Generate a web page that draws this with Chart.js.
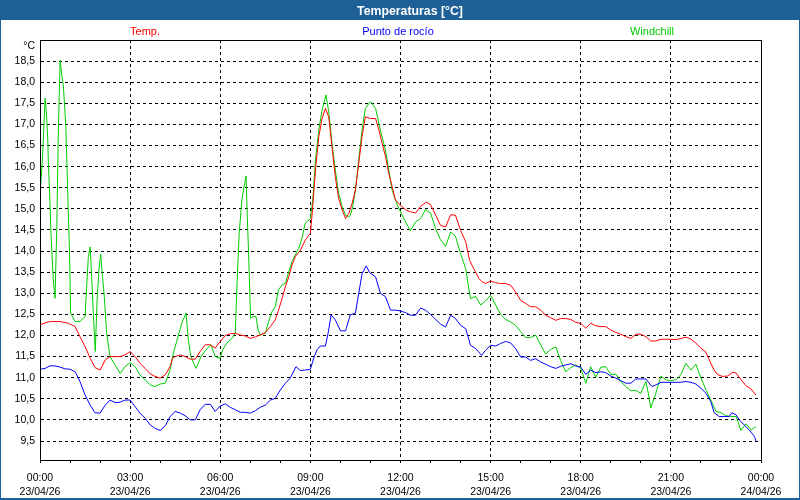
<!DOCTYPE html>
<html><head><meta charset="utf-8">
<script src="https://cdn.jsdelivr.net/npm/chart.js@4.4.1/dist/chart.umd.min.js"></script>
<style>
html,body{margin:0;padding:0;background:#fff;}
#wrap{position:relative;width:800px;height:500px;overflow:hidden;background:#fff;}
#c{position:absolute;left:0;top:0;}
#titlebar{position:absolute;left:0;top:0;width:800px;height:20px;background:#1e5f97;}
#title{position:absolute;left:410px;top:0;transform:translateX(-50%);color:#fff;font:bold 12.3px "Liberation Sans",Arial,sans-serif;line-height:22px;white-space:nowrap;}
#frame{position:absolute;left:0;top:0;width:800px;height:500px;box-sizing:border-box;border:1px solid #1e5f97;border-bottom-width:2px;pointer-events:none;}
.leg{position:absolute;top:25px;font:11px "Liberation Sans",Arial,sans-serif;line-height:13px;transform:translateX(-50%);white-space:nowrap;}
#unit{position:absolute;right:765px;top:39px;font:10.5px "Liberation Sans",Arial,sans-serif;line-height:13px;color:#000;}
</style></head>
<body><div id="wrap">
<canvas id="c" width="800" height="500"></canvas>
<div id="titlebar"></div><div id="title">Temperaturas [°C]</div>
<div class="leg" style="left:145px;color:#ff0000">Temp.</div>
<div class="leg" style="left:398px;color:#0000ff">Punto de rocío</div>
<div class="leg" style="left:652px;color:#00cc00">Windchill</div>
<div id="unit">°C</div>
<div id="frame"></div>
</div>
<script>
const seriesNames = ['Temp.', 'Punto de rocío', 'Windchill'];
const timeLabels = ['00:00','03:00','06:00','09:00','12:00','15:00','18:00','21:00','00:00'];
const dateLabels = ['23/04/26','23/04/26','23/04/26','23/04/26','23/04/26','23/04/26','23/04/26','23/04/26','24/04/26'];
const xTickHours = [0,1,2,3,4,5,6,7,8,9,10,11,12,13,14,15,16,17,18,19,20,21,22,23,24];
const yTicks = [9.5,10,10.5,11,11.5,12,12.5,13,13.5,14,14.5,15,15.5,16,16.5,17,17.5,18,18.5];

const tempT = [0,0.17,0.33,0.67,0.94,1.17,1.33,1.5,1.67,1.83,2,2.17,2.33,2.5,2.67,2.83,3,3.17,3.33,3.5,3.67,3.83,4,4.17,4.33,4.41,4.5,4.67,4.83,5,5.17,5.33,5.5,5.67,5.83,
6,6.17,6.33,6.5,6.67,6.83,7,7.17,7.33,7.5,7.67,7.83,7.94,8.06,8.17,8.28,8.39,8.5,8.67,8.83,9,9.06,9.17,9.28,9.39,9.5,9.61,9.72,9.83,9.94,10.06,10.17,10.28,10.39,10.5,10.61,10.72,10.83,11,11.17,11.28,11.39,11.5,11.61,11.72,11.83,
12,12.17,12.33,12.5,12.67,12.86,13,13.17,13.33,13.5,13.67,13.83,14,14.17,14.3,14.44,14.61,14.72,14.83,15,15.17,15.33,15.5,15.67,15.83,16,16.17,16.33,16.5,16.67,16.83,17,17.17,17.33,17.5,17.67,17.83,
18,18.17,18.33,18.5,18.67,18.83,19,19.17,19.33,19.5,19.67,19.83,20,20.17,20.33,20.5,20.67,20.83,21,21.17,21.33,21.5,21.67,21.83,22,22.17,22.33,22.44,22.56,22.72,22.89,23.06,23.17,23.33,23.5,23.67,23.83];
const tempV = [12.25,12.3,12.33,12.33,12.29,12.21,11.97,11.74,11.46,11.24,11.18,11.42,11.5,11.5,11.5,11.54,11.62,11.5,11.34,11.22,11.09,11.03,10.99,11.07,11.26,11.46,11.5,11.54,11.5,11.44,11.44,11.62,11.78,11.78,11.7,
11.86,12,12.04,12.05,12.01,11.99,11.93,11.97,12.01,12.07,12.21,12.37,12.6,12.88,13.16,13.39,13.67,13.87,14.02,14.26,14.42,14.89,15.92,16.71,17.14,17.38,17.18,16.47,15.76,15.25,14.97,14.77,14.89,15.13,15.45,16.08,16.71,17.18,17.14,17.14,16.87,16.55,16.24,15.84,15.53,15.21,
15.08,14.98,14.93,14.9,15.06,15.16,15.1,14.85,14.61,14.57,14.86,14.85,14.49,14.22,13.78,13.58,13.35,13.27,13.23,13.29,13.25,13.23,13.23,13.19,13.03,12.83,12.76,12.68,12.68,12.6,12.48,12.42,12.36,12.4,12.4,12.38,12.31,
12.29,12.17,12.29,12.23,12.21,12.21,12.13,12.07,12.03,11.97,11.93,12.03,12.03,11.97,11.87,11.87,11.91,11.91,11.91,11.9,11.93,11.96,11.91,11.82,11.7,11.6,11.34,11.18,11.07,11.03,11.04,11.13,11.11,10.96,10.81,10.73,10.59];

const dewT = [0,0.17,0.33,0.5,0.67,0.83,1,1.17,1.33,1.5,1.67,1.83,2,2.17,2.33,2.5,2.67,2.83,3,3.17,3.33,3.5,3.67,3.83,4,4.17,4.33,4.5,4.67,4.83,5,5.17,5.33,5.5,5.67,5.83,
6,6.17,6.33,6.5,6.67,6.83,7,7.17,7.33,7.5,7.67,7.83,8,8.17,8.33,8.52,8.67,8.83,9,9.11,9.22,9.33,9.5,9.59,9.69,9.83,10,10.17,10.33,10.5,10.61,10.72,10.86,10.97,11.17,11.33,11.5,11.67,11.83,
12,12.17,12.33,12.5,12.67,12.83,13,13.17,13.33,13.5,13.67,13.83,14,14.17,14.33,14.5,14.7,14.83,15,15.17,15.33,15.5,15.67,15.83,16,16.17,16.33,16.5,16.67,16.83,17,17.17,17.33,17.5,17.67,17.83,
18,18.17,18.33,18.5,18.67,18.83,19,19.17,19.33,19.5,19.67,19.83,20,20.17,20.37,20.5,20.67,20.83,21,21.17,21.33,21.5,21.67,21.83,22,22.17,22.33,22.44,22.61,22.78,22.94,23.03,23.17,23.28,23.44,23.61,23.78,23.83];
const dewV = [11.2,11.22,11.28,11.28,11.25,11.21,11.2,11.14,10.91,10.59,10.35,10.17,10.16,10.35,10.47,10.41,10.42,10.47,10.47,10.31,10.16,10.04,9.88,9.8,9.75,9.86,10.08,10.2,10.16,10.1,10,10,10.24,10.37,10.37,10.2,
10.33,10.38,10.3,10.24,10.18,10.18,10.16,10.22,10.3,10.35,10.47,10.51,10.71,10.87,10.99,11.26,11.17,11.18,11.2,11.46,11.66,11.75,11.75,12.05,12.49,12.37,12.11,12.11,12.49,12.53,13,13.46,13.65,13.49,13.39,13,12.92,12.6,12.6,
12.58,12.54,12.48,12.48,12.65,12.6,12.5,12.38,12.27,12.2,12.48,12.4,12.24,12.16,11.77,11.69,11.53,11.65,11.77,11.75,11.81,11.86,11.82,11.69,11.49,11.49,11.41,11.45,11.37,11.32,11.26,11.22,11.27,11.3,11.33,11.28,
11.25,11.08,11.18,11.12,11.14,11.12,11.04,10.99,10.93,10.87,10.87,10.97,10.97,10.97,10.79,10.83,10.89,10.89,10.89,10.89,10.89,10.91,10.89,10.85,10.75,10.63,10.43,10.17,10.08,10.08,10.08,10.17,10.12,10,9.88,9.76,9.61,9.5];

const windT = [0,0.08,0.17,0.21,0.26,0.28,0.32,0.37,0.44,0.5,0.56,0.61,0.67,0.72,0.78,0.86,0.9,0.94,0.98,1.02,1.17,1.33,1.5,1.56,1.61,1.67,1.72,1.78,1.84,1.9,1.97,2.02,2.08,2.14,2.22,2.33,2.5,2.67,2.83,3,3.17,3.33,3.5,3.67,3.83,4,4.17,4.33,4.44,4.56,4.72,4.86,4.94,5.02,5.19,5.36,5.52,5.69,5.83,
6,6.08,6.22,6.39,6.5,6.56,6.63,6.72,6.81,6.86,6.9,6.94,7.01,7.11,7.19,7.26,7.33,7.5,7.61,7.72,7.83,7.94,8.06,8.17,8.28,8.39,8.5,8.61,8.72,8.83,9,9.08,9.17,9.28,9.39,9.52,9.61,9.72,9.83,9.94,10.06,10.17,10.28,10.33,10.41,10.5,10.61,10.72,10.83,11,11.17,11.33,11.5,11.61,11.72,11.89,
12,12.17,12.33,12.5,12.67,12.83,13,13.17,13.33,13.5,13.67,13.83,14,14.17,14.33,14.5,14.67,14.83,15,15.17,15.33,15.5,15.67,15.83,16,16.17,16.33,16.5,16.67,16.83,17,17.17,17.33,17.5,17.67,17.83,
18,18.17,18.33,18.5,18.67,18.83,19,19.17,19.33,19.5,19.67,19.83,20,20.17,20.26,20.33,20.5,20.67,20.83,21,21.17,21.33,21.5,21.67,21.83,22,22.17,22.33,22.5,22.67,22.83,23,23.17,23.33,23.5,23.67,23.83];
const windV = [15.3,16.15,17.62,17.3,16.63,16.04,15.37,14.34,13.35,12.88,14.58,16.83,18.52,18.2,17.9,16.95,15.96,14.97,14.02,12.53,12.33,12.33,12.45,13.24,13.87,14.1,13.4,12.45,11.62,12.84,13.63,13.93,13.4,12.92,12.05,11.5,11.3,11.1,11.26,11.36,11.26,11.06,10.95,10.83,10.79,10.85,10.87,11.18,11.58,11.89,12.29,12.53,11.89,11.5,11.22,11.5,11.66,11.78,11.5,
11.46,11.66,11.82,11.93,12.05,13.24,14.42,15.21,15.6,15.78,14.81,14.02,12.41,12.45,12.45,12.13,12.01,12.05,12.33,12.56,12.68,13.08,13.2,13.24,13.51,13.75,13.91,14.06,14.3,14.66,14.77,15.21,16.16,16.87,17.34,17.7,17.3,16.55,15.92,15.37,15.05,14.85,14.81,14.85,15.05,15.45,16.16,16.87,17.38,17.54,17.38,16.87,16.39,15.92,15.45,15.09,
14.93,14.69,14.48,14.69,14.77,14.98,14.9,14.53,14.27,14.11,14.45,14.35,13.94,13.58,12.87,12.93,12.72,12.82,12.95,12.72,12.5,12.38,12.32,12.24,12.09,11.95,11.95,12.01,11.77,11.56,11.67,11.73,11.41,11.14,11.24,11.3,
11.22,10.87,11.26,11.01,11.25,11.26,11.08,11.08,10.91,10.79,10.69,10.7,10.63,10.91,10.59,10.28,10.63,11.04,10.95,10.93,10.95,11.07,11.34,11.18,11.32,10.99,10.71,10.47,10.2,10.17,10.1,10.08,10.08,9.75,9.91,9.76,9.84];

const pts = (T, V) => T.map((t, i) => ({x: t, y: V[i]}));
const tickFont = {family: '"Liberation Sans", Arial, sans-serif', size: 10.5, lineHeight: 1.35};

const frameBox = {
  id: 'frameBox',
  afterDraw(chart) {
    const {ctx, chartArea: a} = chart;
    ctx.save();
    ctx.strokeStyle = '#000';
    ctx.lineWidth = 1;
    ctx.setLineDash([]);
    ctx.strokeRect(Math.round(a.left) + 0.5, Math.round(a.top) + 0.5, Math.round(a.right - a.left), Math.round(a.bottom - a.top));
    ctx.restore();
  }
};

new Chart(document.getElementById('c'), {
  type: 'line',
  data: {
    datasets: [
      {label: seriesNames[0], data: pts(tempT, tempV), borderColor: '#ff0000'},
      {label: seriesNames[1], data: pts(dewT, dewV), borderColor: '#0000ff'},
      {label: seriesNames[2], data: pts(windT, windV), borderColor: '#00cc00'}
    ]
  },
  options: {
    responsive: false, animation: false, devicePixelRatio: 1,
    layout: {padding: {top: 40, right: 39, left: 0, bottom: 0}},
    plugins: {legend: {display: false}, tooltip: {enabled: false}, title: {display: false}},
    elements: {point: {radius: 0}, line: {borderWidth: 1, tension: 0, fill: false}},
    scales: {
      x: {
        type: 'linear', min: 0, max: 24,
        afterBuildTicks: s => { s.ticks = xTickHours.map(v => ({value: v})); },
        afterFit: s => { s.height = 40; },
        ticks: {autoSkip: false, maxRotation: 0, padding: 8, color: '#000', font: tickFont,
          callback: v => (v % 3 === 0) ? [timeLabels[v / 3], dateLabels[v / 3]] : ''},
        grid: {color: c => (c.tick && c.tick.value % 3 === 0) ? '#000' : 'rgba(0,0,0,0)',
          tickColor: '#000', tickLength: 3, lineWidth: 1, drawTicks: true},
        border: {display: true, color: '#000', dash: [3, 3]}
      },
      y: {
        min: 9.05, max: 19.0,
        afterBuildTicks: s => { s.ticks = yTicks.map(v => ({value: v})); },
        afterFit: s => { s.width = 40; },
        ticks: {padding: 5, color: '#000', font: tickFont, callback: v => v.toFixed(1).replace('.', ',')},
        grid: {color: '#000', drawTicks: false, lineWidth: 1},
        border: {display: true, color: '#000', dash: [3, 3]}
      }
    }
  },
  plugins: [frameBox]
});
</script>
</body></html>
